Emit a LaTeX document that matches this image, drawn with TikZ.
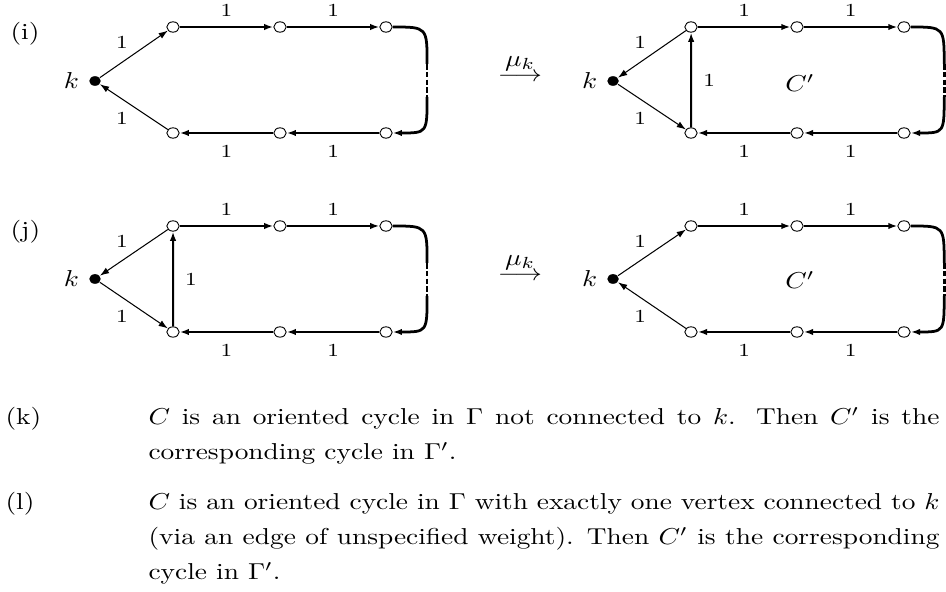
\documentclass[tikz,border=0pt]{standalone}
\usepackage{amsmath,amssymb}
\usetikzlibrary{arrows.meta}

\begin{document}
\begin{tikzpicture}[
  x=0.3654pt, y=-0.4348pt, xscale=1.19, transform shape,
  vtx/.style  = {circle, draw, line width=0.4pt, fill=white,
                 inner sep=0pt, minimum size=4.5pt},
  kvtx/.style = {circle, fill=black, inner sep=0pt, minimum size=4.2pt,
                 label={left:$k$}},
  arr/.style  = {-{Latex[length=4pt,width=2.8pt]}, line width=0.9pt},
  arrT/.style = {-{Latex[length=4pt,width=2.8pt]}, line width=0.45pt},
  cyc/.style  = {line width=1.2pt},
  dots/.style = {line width=1.2pt, dash pattern=on 2.4pt off 1pt},
  lbl/.style  = {font=\footnotesize, inner sep=4pt},
  lblD/.style = {font=\footnotesize, inner sep=2pt},
  tag/.style  = {anchor=base west, inner sep=0pt},
  para/.style = {text width=289pt, align=justify, inner sep=0pt,
                 anchor=base west, font=\fontsize{10}{15.2}\selectfont},
]
\useasboundingbox (0,0) rectangle (946,592);

% --- (i), before mutation ---
\node[tag]  (rowi) at (10,39) {(i)};
\node[kvtx] (k1) at (95,81)  {};
\node[vtx]  (a1) at (173,27)  {};
\node[vtx]  (b1) at (280,27)  {};
\node[vtx]  (c1) at (386,27)  {};
\node[vtx]  (d1) at (173,133) {};
\node[vtx]  (e1) at (280,133) {};
\node[vtx]  (f1) at (386,133) {};
\coordinate (p1) at (427,64);
\coordinate (q1) at (427,97);

\draw[arrT] (k1) -- node[above left,lblD]{1} (a1);
\draw[arrT] (d1) -- node[below left,lblD]{1} (k1);
\draw[arr]  (a1) -- node[above,lbl]{1} (b1);
\draw[arr]  (b1) -- node[above,lbl]{1} (c1);
\draw[cyc]  (c1) .. controls (c1 -| p1) .. (p1);
\draw[dots] (p1) -- (q1);
\draw[arr, line width=1.2pt] (q1) .. controls (f1 -| q1) .. (f1);
\draw[arr]  (f1) -- node[below=1pt,lbl]{1} (e1);
\draw[arr]  (e1) -- node[below=1pt,lbl]{1} (d1);

\node (mu1) at (520,68) {$\stackrel{\textstyle\mu_k}{\longrightarrow}$};

% --- (i), after mutation ---
\node[kvtx] (k2) at (613,81)  {};
\node[vtx]  (a2) at (691,27)  {};
\node[vtx]  (b2) at (797,27)  {};
\node[vtx]  (c2) at (904,27)  {};
\node[vtx]  (d2) at (691,133) {};
\node[vtx]  (e2) at (797,133) {};
\node[vtx]  (f2) at (904,133) {};
\coordinate (p2) at (944,64);
\coordinate (q2) at (944,97);
\node (Ci) at (800,83) {$C'$};

\draw[arrT] (a2) -- node[above left,lblD]{1} (k2);
\draw[arrT] (k2) -- node[below left,lblD]{1} (d2);
\draw[arr]  (d2) -- node[right,lbl]{1} (a2);
\draw[arr]  (a2) -- node[above,lbl]{1} (b2);
\draw[arr]  (b2) -- node[above,lbl]{1} (c2);
\draw[cyc]  (c2) .. controls (c2 -| p2) .. (p2);
\draw[dots] (p2) -- (q2);
\draw[arr, line width=1.2pt] (q2) .. controls (f2 -| q2) .. (f2);
\draw[arr]  (f2) -- node[below=1pt,lbl]{1} (e2);
\draw[arr]  (e2) -- node[below=1pt,lbl]{1} (d2);

% --- (j), before mutation ---
\node[tag]  (rowj) at (10,238) {(j)};
\node[kvtx] (k3) at (95,279)  {};
\node[vtx]  (a3) at (173,226) {};
\node[vtx]  (b3) at (280,226) {};
\node[vtx]  (c3) at (386,226) {};
\node[vtx]  (d3) at (173,332) {};
\node[vtx]  (e3) at (280,332) {};
\node[vtx]  (f3) at (386,332) {};
\coordinate (p3) at (427,263);
\coordinate (q3) at (427,296);

\draw[arrT] (a3) -- node[above left,lblD]{1} (k3);
\draw[arrT] (k3) -- node[below left,lblD]{1} (d3);
\draw[arr]  (d3) -- node[right,lbl]{1} (a3);
\draw[arr]  (a3) -- node[above,lbl]{1} (b3);
\draw[arr]  (b3) -- node[above,lbl]{1} (c3);
\draw[cyc]  (c3) .. controls (c3 -| p3) .. (p3);
\draw[dots] (p3) -- (q3);
\draw[arr, line width=1.2pt] (q3) .. controls (f3 -| q3) .. (f3);
\draw[arr]  (f3) -- node[below=1pt,lbl]{1} (e3);
\draw[arr]  (e3) -- node[below=1pt,lbl]{1} (d3);

\node (mu2) at (520,267) {$\stackrel{\textstyle\mu_k}{\longrightarrow}$};

% --- (j), after mutation ---
\node[kvtx] (k4) at (613,279) {};
\node[vtx]  (a4) at (691,226) {};
\node[vtx]  (b4) at (797,226) {};
\node[vtx]  (c4) at (904,226) {};
\node[vtx]  (d4) at (691,332) {};
\node[vtx]  (e4) at (797,332) {};
\node[vtx]  (f4) at (904,332) {};
\coordinate (p4) at (944,263);
\coordinate (q4) at (944,296);
\node (Cj) at (800,280) {$C'$};

\draw[arrT] (k4) -- node[above left,lblD]{1} (a4);
\draw[arrT] (d4) -- node[below left,lblD]{1} (k4);
\draw[arr]  (a4) -- node[above,lbl]{1} (b4);
\draw[arr]  (b4) -- node[above,lbl]{1} (c4);
\draw[cyc]  (c4) .. controls (c4 -| p4) .. (p4);
\draw[dots] (p4) -- (q4);
\draw[arr, line width=1.2pt] (q4) .. controls (f4 -| q4) .. (f4);
\draw[arr]  (f4) -- node[below=1pt,lbl]{1} (e4);
\draw[arr]  (e4) -- node[below=1pt,lbl]{1} (d4);

% --- (k) and (l) ---
\node[tag]  (klab) at (5,425) {(k)};
\node[para] (ktxt) at (148,425) {$C$ is an oriented cycle in $\Gamma$ not
  connected to $k$. Then $C'$ is the\linebreak corresponding cycle in $\Gamma'$.};
\node[tag]  (llab) at (5,510) {(l)};
\node[para] (ltxt) at (148,510) {$C$ is an oriented cycle in $\Gamma$ with
  exactly one vertex connected to $k$\linebreak (via an edge of unspecified
  weight). Then $C'$ is the corresponding\linebreak cycle in $\Gamma'$.};

\end{tikzpicture}
\end{document}
